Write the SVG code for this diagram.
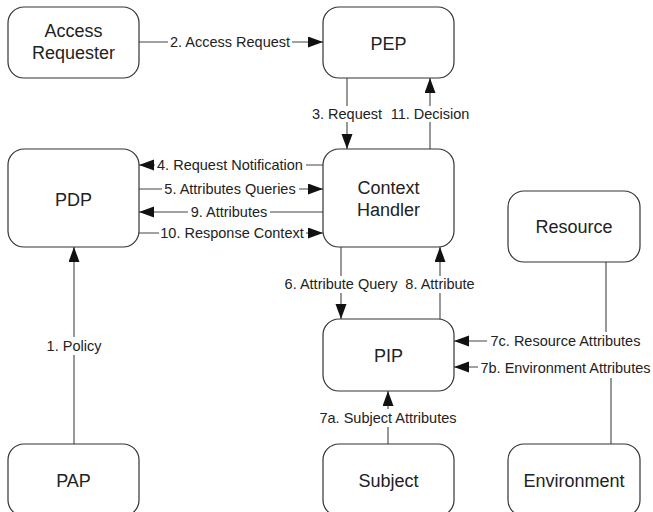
<svg xmlns="http://www.w3.org/2000/svg" width="653" height="512" viewBox="0 0 653 512">
<style>
.node rect{fill:#fff;stroke:#333;stroke-width:1.2}
.node text{font-family:"Liberation Sans",Arial,sans-serif;font-size:18px;fill:#222;text-anchor:middle}
.conn path{fill:none;stroke:#444;stroke-width:1.1}
.lbl{font-family:"Liberation Sans",Arial,sans-serif;font-size:14.5px;fill:#222;text-anchor:middle}
.bg{fill:#fff;stroke:none}
</style>
<defs>
<marker id="ah" markerUnits="userSpaceOnUse" markerWidth="16" markerHeight="12" refX="15" refY="5.5" orient="auto">
<path d="M0,0 L15,5.5 L0,11 z" fill="#111"/>
</marker>
</defs>
<rect width="653" height="512" fill="#fff"/>

<g class="conn" id="connectors">
<path d="M139,42 H323" marker-end="url(#ah)"/>
<path d="M347,78 V149" marker-end="url(#ah)"/>
<path d="M430,149 V78" marker-end="url(#ah)"/>
<path d="M323,165 H139" marker-end="url(#ah)"/>
<path d="M139,189 H323" marker-end="url(#ah)"/>
<path d="M323,212 H139" marker-end="url(#ah)"/>
<path d="M139,233 H323" marker-end="url(#ah)"/>
<path d="M74,444 V247" marker-end="url(#ah)"/>
<path d="M341,247 V319" marker-end="url(#ah)"/>
<path d="M440,319 V247" marker-end="url(#ah)"/>
<path d="M388,444 V391" marker-end="url(#ah)"/>
<path d="M606,262 V341 H454" marker-end="url(#ah)"/>
<path d="M611,444 V367 H454" marker-end="url(#ah)"/>

<rect class="bg" x="168" y="35" width="124" height="15"/>
<text class="lbl" x="230" y="47">2. Access Request</text>
<rect class="bg" x="310" y="106" width="74" height="16"/>
<text class="lbl" x="347" y="119">3. Request</text>
<rect class="bg" x="388" y="106" width="84" height="16"/>
<text class="lbl" x="430" y="119">11. Decision</text>
<rect class="bg" x="155" y="158" width="151" height="15"/>
<text class="lbl" x="230" y="170">4. Request Notification</text>
<rect class="bg" x="162" y="182" width="137" height="15"/>
<text class="lbl" x="230" y="194">5. Attributes Queries</text>
<rect class="bg" x="188" y="205" width="82" height="15"/>
<text class="lbl" x="229" y="217">9. Attributes</text>
<rect class="bg" x="159" y="226" width="147" height="15"/>
<text class="lbl" x="232" y="238">10. Response Context</text>
<rect class="bg" x="44" y="337" width="60" height="18"/>
<text class="lbl" x="74" y="351">1. Policy</text>
<rect class="bg" x="282" y="276" width="118" height="17"/>
<text class="lbl" x="341" y="289">6. Attribute Query</text>
<rect class="bg" x="403" y="276" width="74" height="17"/>
<text class="lbl" x="440" y="289">8. Attribute</text>
<rect class="bg" x="316" y="409" width="144" height="18"/>
<text class="lbl" x="388" y="423">7a. Subject Attributes</text>
<rect class="bg" x="487" y="332" width="158" height="18"/>
<text class="lbl" x="565.5" y="346">7c. Resource Attributes</text>
<rect class="bg" x="478" y="359" width="175" height="19"/>
<text class="lbl" x="565.5" y="372.5">7b. Environment Attributes</text>
</g>

<g class="node" id="access-requester">
<rect x="8" y="7" width="131" height="71" rx="16"/>
<text x="73.5" y="37">Access</text>
<text x="73.5" y="58.5">Requester</text>
</g>
<g class="node" id="pep">
<rect x="323" y="7" width="131" height="71" rx="16"/>
<text x="388.5" y="50">PEP</text>
</g>
<g class="node" id="pdp">
<rect x="8" y="149" width="131" height="98" rx="16"/>
<text x="73.5" y="205.5">PDP</text>
</g>
<g class="node" id="context-handler">
<rect x="323" y="149" width="131" height="98" rx="16"/>
<text x="388.5" y="194">Context</text>
<text x="388.5" y="216">Handler</text>
</g>
<g class="node" id="resource">
<rect x="508" y="191" width="132" height="71" rx="16"/>
<text x="574" y="233">Resource</text>
</g>
<g class="node" id="pip">
<rect x="323" y="319" width="131" height="72" rx="16"/>
<text x="388.5" y="362">PIP</text>
</g>
<g class="node" id="pap">
<rect x="8" y="444" width="131" height="72" rx="16"/>
<text x="73.5" y="487">PAP</text>
</g>
<g class="node" id="subject">
<rect x="323" y="444" width="131" height="72" rx="16"/>
<text x="388.5" y="487">Subject</text>
</g>
<g class="node" id="environment">
<rect x="508" y="444" width="132" height="72" rx="16"/>
<text x="574" y="487">Environment</text>
</g>
</svg>
